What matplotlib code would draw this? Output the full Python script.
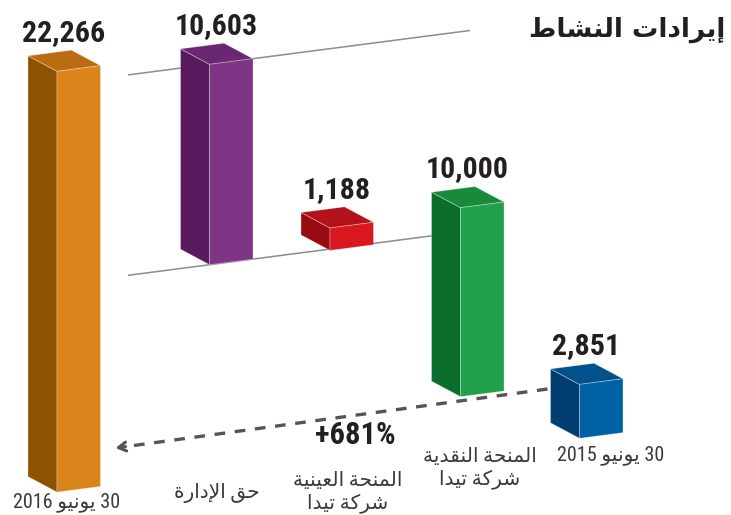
import re
import matplotlib
matplotlib.use('Agg')
import matplotlib.pyplot as plt
from matplotlib.patches import Polygon
from matplotlib import font_manager as fm

# ---------------- data (left to right, as drawn) ----------------
categories = ['30 يونيو 2016', 'حق الإدارة', 'المنحة العينية\nشركة تيدا',
              'المنحة النقدية\nشركة تيدا', '30 يونيو 2015']
values = [22266, 10603, 1188, 10000, 2851]
bar_bases = [0, 11200, 11300, 2851, 0]          # level where each bar starts
value_labels = ['22,266', '10,603', '1,188', '10,000', '2,851']
growth_label = '+681%'
title = 'إيرادات النشاط'

# ---------------- styling / layout ----------------
bar_x = [57, 209.5, 330, 460.5, 579.5]          # horizontal position of each bar's front-left edge (px)
face_colors = [  # (front, left side, top)
    ('#DA841B', '#8E5302', '#BA6C12'),
    ('#7E3586', '#591A5D', '#6C2774'),
    ('#D8171F', '#990B10', '#B5111A'),
    ('#21A049', '#0B6D2C', '#188A3A'),
    ('#0061A5', '#003E71', '#00518C'),
]
FIG_W, FIG_H = 731, 515
K = 0.0189            # px per value unit
G = 0.103 / K         # ground rise (value units per px)
E = 0.13 / K          # edge tilt (value units per px)
D = 15.5 / K          # depth rise (value units)
DX = 29               # depth shift (px)
W = 43.5              # front face width (px)
YLO = G * 579.5 - (FIG_H - 438.3) / K
YHI = YLO + FIG_H / K


def has_font(name):
    try:
        fm.findfont(fm.FontProperties(family=name), fallback_to_default=False)
        return True
    except Exception:
        return False


NUM_FONT = next((f for f in ['Liberation Sans Narrow', 'Roboto Condensed', 'DejaVu Sans']
                 if has_font(f)), 'DejaVu Sans')

# ---------------- minimal Arabic shaping ----------------
AR_FORMS = {
    '\u0627': ('\uFE8D', '\uFE8E', None, None),
    '\u0625': ('\uFE87', '\uFE88', None, None),
    '\u062A': ('\uFE95', '\uFE96', '\uFE97', '\uFE98'),
    '\u0629': ('\uFE93', '\uFE94', None, None),
    '\u062D': ('\uFEA1', '\uFEA2', '\uFEA3', '\uFEA4'),
    '\u062F': ('\uFEA9', '\uFEAA', None, None),
    '\u0631': ('\uFEAD', '\uFEAE', None, None),
    '\u0634': ('\uFEB5', '\uFEB6', '\uFEB7', '\uFEB8'),
    '\u0637': ('\uFEC1', '\uFEC2', '\uFEC3', '\uFEC4'),
    '\u0639': ('\uFEC9', '\uFECA', '\uFECB', '\uFECC'),
    '\u0642': ('\uFED5', '\uFED6', '\uFED7', '\uFED8'),
    '\u0643': ('\uFED9', '\uFEDA', '\uFEDB', '\uFEDC'),
    '\u0644': ('\uFEDD', '\uFEDE', '\uFEDF', '\uFEE0'),
    '\u0645': ('\uFEE1', '\uFEE2', '\uFEE3', '\uFEE4'),
    '\u0646': ('\uFEE5', '\uFEE6', '\uFEE7', '\uFEE8'),
    '\u0648': ('\uFEED', '\uFEEE', None, None),
    '\u064A': ('\uFEF1', '\uFEF2', '\uFEF3', '\uFEF4'),
}
LAM_ALEF = {'\u0627': ('\uFEFB', '\uFEFC'), '\u0625': ('\uFEF9', '\uFEFA')}


def shape_line(text):
    out, i, n, prev = [], 0, len(text), False
    while i < n:
        c = text[i]
        if c not in AR_FORMS:
            out.append(c); prev = False; i += 1; continue
        if c == '\u0644' and i + 1 < n and text[i + 1] in LAM_ALEF:
            iso, fin = LAM_ALEF[text[i + 1]]
            out.append(fin if prev else iso)
            prev = False; i += 2; continue
        iso, fin, ini, med = AR_FORMS[c]
        nxt = text[i + 1] if i + 1 < n else ''
        can_next = ini is not None and nxt in AR_FORMS
        if prev and can_next:
            g = med
        elif prev:
            g = fin
        elif can_next:
            g = ini
        else:
            g = iso
        out.append(g)
        prev = can_next
        i += 1
    rev = ''.join(out)[::-1]
    return re.sub(r'[0-9A-Za-z+%.,]+', lambda m: m.group(0)[::-1], rev)


def ar(text):
    return '\n'.join(shape_line(t) for t in text.split('\n'))


# ---------------- figure ----------------
fig = plt.figure(figsize=(FIG_W / 100, FIG_H / 100), dpi=100)
ax = fig.add_axes([0, 0, 1, 1])
ax.set_xlim(0, FIG_W)
ax.set_ylim(YLO, YHI)
ax.axis('off')


def py2y(py):
    return YLO + (FIG_H - py) / K


def front_y(i, level, x):
    """value-frame y of a point on bar i's front plane at the given level"""
    return level + G * bar_x[i] + E * (x - bar_x[i])


# connector lines at the management-fee bar's bottom and top levels
pi = 1
for lev, x0, x1 in [(bar_bases[pi], 128, 432), (bar_bases[pi] + values[pi], 128, 470)]:
    ax.plot([x0, x1], [front_y(pi, lev, x0), front_y(pi, lev, x1)],
            color='#8c8c8c', lw=1.1, zorder=1, solid_capstyle='butt')

# bars
for i, (v, b) in enumerate(zip(values, bar_bases)):
    fx = bar_x[i]
    yb = front_y(i, b, fx)
    yt = front_y(i, b + v, fx)
    dy = E * W
    fcol, lcol, tcol = face_colors[i]
    front = [(fx, yb), (fx + W, yb + dy), (fx + W, yt + dy), (fx, yt)]
    left = [(fx, yb), (fx, yt), (fx - DX, yt + D), (fx - DX, yb + D)]
    top = [(fx, yt), (fx + W, yt + dy), (fx + W - DX, yt + dy + D), (fx - DX, yt + D)]
    for poly, col in [(left, lcol), (top, tcol), (front, fcol)]:
        ax.add_patch(Polygon(poly, closed=True, facecolor=col, edgecolor=(1, 1, 1, 0.35),
                             lw=0.6, joinstyle='round', zorder=3))
    ax.text(fx + 7, yt + dy + D + 9 / K, value_labels[i], ha='center', va='baseline',
            fontsize=21.5, fontweight='bold', color='#231F20', family=[NUM_FONT, 'DejaVu Sans'],
            zorder=5)

# dashed growth arrow (2015 -> 2016)
sx, sy = bar_x[4] - DX - 3, py2y(389)
tx, ty = bar_x[0] + W + 15, py2y(448)
ax.plot([sx, tx + 3], [sy, ty + (sy - ty) * 3 / (sx - tx)], color='#555555', lw=2.4,
        dashes=(3.2, 2.9), solid_capstyle='butt', dash_capstyle='butt', zorder=2)
ax.annotate('', xy=(tx, ty), xytext=(tx + 10, ty + (sy - ty) * 10 / (sx - tx)),
            arrowprops=dict(arrowstyle='->,head_length=0.55,head_width=0.32', lw=2.2,
                            color='#555555', shrinkA=0, shrinkB=0), zorder=2)

# growth label
fig.text(355 / FIG_W, 1 - 435 / FIG_H, growth_label, ha='center', va='center', fontsize=22,
         fontweight='bold', color='#231F20', family=[NUM_FONT, 'DejaVu Sans'])

# category labels
cat_pos = [(67, 502), (217, 493), (348, 492), (480, 468), (611, 455)]
for (cx, cy), lab in zip(cat_pos, categories):
    fig.text(cx / FIG_W, 1 - cy / FIG_H, ar(lab), ha='center', va='center', fontsize=14.5,
             color='#3a3a3a', family=[NUM_FONT, 'DejaVu Sans'], multialignment='center',
             linespacing=1.2)

# title
fig.text(725 / FIG_W, 1 - 30 / FIG_H, ar(title), ha='right', va='center', fontsize=19,
         fontweight='bold', color='#231F20', family=['DejaVu Sans'])

fig.savefig('out.png', dpi=100, facecolor='white')
